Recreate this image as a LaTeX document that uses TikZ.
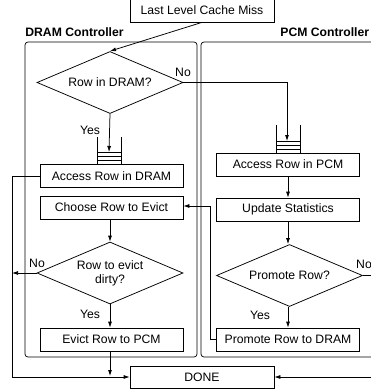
\documentclass[tikz,border=0pt]{standalone}
\usepackage{fontspec}
\setmainfont{Liberation Sans}
\usetikzlibrary{shapes.geometric,arrows.meta}

\begin{document}
\begin{tikzpicture}[x=1pt,y=-1pt,
  font=\fontsize{12.2}{14}\selectfont,
  line width=0.75pt,
  >={Latex[length=6pt,width=4pt]},
  stepbox/.style={draw, rectangle, minimum width=143pt, minimum height=23pt, inner sep=0pt},
  decision/.style={draw, diamond, shape aspect=2.35, minimum width=146pt, minimum height=62pt, inner sep=0pt, align=center},
  lbl/.style={inner sep=0pt},
  title/.style={inner sep=0pt, anchor=west, font=\fontsize{12.2}{14}\selectfont\bfseries},
  region/.style={draw, rounded corners=3pt, line width=0.7pt},
  queue/.style={line width=0.7pt}
]
\useasboundingbox (0,0) rectangle (371,391);
\clip (0,0) rectangle (371,391);

% controller regions
\draw[region] (25,357) -- (25,42) -- (197,42) -- (197,357) -- cycle;
\draw[region] (201,357) -- (201,42) -- (400,42) -- (400,357) -- cycle;
\node[title] (dramT) at (25,32.5) {DRAM Controller};
\node[title] (pcmT) at (280,32.5) {PCM Controller};

% entry and exit
\node[stepbox, minimum width=144pt, minimum height=24pt] (miss) at (202,10) {Last Level Cache Miss};
\node[stepbox, fill=white, minimum width=144pt, minimum height=22pt] (done) at (202,377) {DONE};

% DRAM side
\node[decision] (d1) at (110,82.5) {Row in DRAM?};
\node[stepbox] (aDram) at (111.5,176) {Access Row in DRAM};
\node[stepbox] (choose) at (111.5,207.5) {Choose Row to Evict};
\node[decision] (d2) at (110,273) {Row to evict\\dirty?};
\node[stepbox] (evict) at (111.5,339.5) {Evict Row to PCM};

% PCM side
\node[stepbox] (aPcm) at (288,164.5) {Access Row in PCM};
\node[stepbox] (upd) at (288,209.5) {Update Statistics};
\node[decision] (d3) at (289.5,275.5) {Promote Row?};
\node[stepbox] (promote) at (288,339.5) {Promote Row to DRAM};

% request queues
\draw[queue] (97,137) -- (97,164) (121,137) -- (121,164);
\draw[queue] (97,152) -- (121,152) (97,156) -- (121,156) (97,160) -- (121,160);
\coordinate (q1) at (109,152);
\draw[queue] (276,125) -- (276,153) (300,125) -- (300,153);
\draw[queue] (276,141) -- (300,141) (276,145) -- (300,145) (276,149) -- (300,149);
\coordinate (q2) at (287,141);

% connectors
\draw[->] (miss.south) -- (d1.north);
\draw[->] (d1.south) -- (q1);
\draw[->] (d1.east) -- (287,82.5) -- (q2);
\draw (aDram.west) -- (12,176) -- (12,377);
\draw[->] (12,377) -- (done.west);
\draw[->] (d2.west) -- (12,273);
\draw[->] (choose.south -| d2.north) -- (d2.north);
\draw[->] (d2.south) -- (d2.south |- evict.north);
\draw[->] (evict.south -| d2.south) -- (110,376);
\draw[->] (aPcm.south) -- (upd.north);
\draw[->] (upd.south) -- (d3.north -| upd.south);
\draw[->] (d3.south -| promote.north) -- (promote.north);
\draw[->] (promote.west) -- (210,339.5) -- (210,206) -- (choose.east |- 0,206);
\draw (d3.east) -- (390,275.5) -- (390,377);
\draw[->] (390,377) -- (done.east);

% branch labels
\node[lbl] (no1) at (183,72) {No};
\node[lbl] (yes1) at (90,130.5) {Yes};
\node[lbl] (no2) at (37,263) {No};
\node[lbl] (yes2) at (90,314) {Yes};
\node[lbl] (no3) at (364,264) {No};
\node[lbl] (yes3) at (260,315) {Yes};
\end{tikzpicture}
\end{document}
